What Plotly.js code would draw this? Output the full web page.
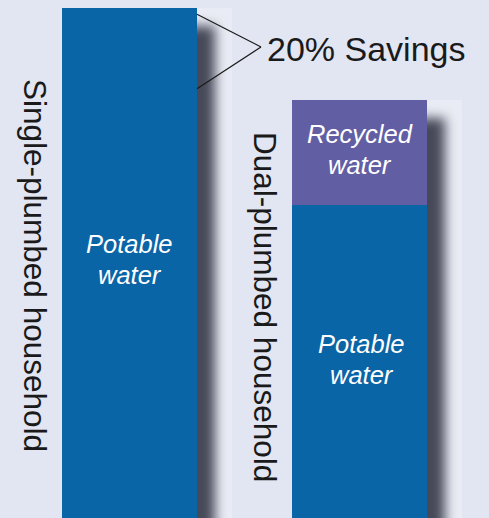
<!DOCTYPE html>
<html><head><meta charset="utf-8">
<script src="https://cdn.plot.ly/plotly-3.0.1.min.js"></script>
<style>
html,body{margin:0;padding:0;background:#e2e5f2;overflow:hidden;}
#chart{width:489px;height:518px;}
.barlayer{filter: drop-shadow(18px 18px 6px rgba(70,73,88,1));}
</style></head><body><div id="chart"></div>
<script>
// ---- data ----
const households = ["Single-plumbed household", "Dual-plumbed household"];
const potableUse = [100, 61.4];
const recycledUse = [0, 20.6];
const potableLabel = ["Potable", "water"];
const recycledLabel = ["Recycled", "water"];
const savingsLabel = "20% Savings";

// ---- styling / layout ----
const W = 489, H = 518;
const BG = "#e2e5f2";
const BLUE = "#0a65a6";
const PURPLE = "#625ea3";
const barWidth = 0.587;
const xr = [-0.563, 1.563];
const yr = [0, 101.6];
const xd = p => xr[0] + p / W * (xr[1] - xr[0]);       // pixel -> data x
const yd = p => yr[0] + (H - p) / H * (yr[1] - yr[0]); // pixel -> data y

const idx = households.map((_, i) => i);
const totals = idx.map(i => potableUse[i] + recycledUse[i]);

const traces = [
  {type: "bar", x: idx, y: potableUse, width: barWidth, marker: {color: BLUE, line: {width: 0}}, hoverinfo: "skip", name: "Potable water"},
  {type: "bar", x: idx, y: recycledUse, width: barWidth, marker: {color: PURPLE, line: {width: 0}}, hoverinfo: "skip", name: "Recycled water"}
];

const font = "Liberation Sans, Arial, Helvetica, sans-serif";
const ann = [];
const fsIn = 25.5;
function addLines(lines, i, centerVal, dx) {
  const gap = 31 / H * (yr[1] - yr[0]);
  lines.forEach((t, k) => {
    ann.push({x: i + dx, y: centerVal + gap / 2 - k * gap, xref: "x", yref: "y", text: "<i>" + t + "</i>",
      showarrow: false, xanchor: "center", yanchor: "middle", font: {family: font, size: fsIn, color: "#ffffff"}});
  });
}
addLines(potableLabel, 0, potableUse[0] * 0.508, 0.002);
addLines(potableLabel, 1, potableUse[1] * 0.505, 0.01);
addLines(recycledLabel, 1, potableUse[1] + recycledUse[1] * 0.53, 0.0);

// household labels (rotated)
ann.push({x: xd(35), y: yd(265), xref: "x", yref: "y", text: households[0], textangle: 90, showarrow: false,
  xanchor: "center", yanchor: "middle", font: {family: font, size: 31.5, color: "#1a1a1a"}});
ann.push({x: xd(265), y: yd(307), xref: "x", yref: "y", text: households[1], textangle: 90, showarrow: false,
  xanchor: "center", yanchor: "middle", font: {family: font, size: 31.5, color: "#1a1a1a"}});

// savings label
const apexY = (totals[0] + totals[1]) / 2 + 1.4;
const apexX = xd(261);
ann.push({x: xd(265), y: apexY - 0.4, xref: "x", yref: "y", text: savingsLabel, showarrow: false,
  xanchor: "left", yanchor: "middle", font: {family: font, size: 34, color: "#1a1a1a"}});

const right0 = 0 + barWidth / 2;
const right1 = 1 + barWidth / 2;
const boxW = 35 / W * (xr[1] - xr[0]);
const shapes = [
  {type: "rect", xref: "x", yref: "y", x0: right0, x1: right0 + boxW, y0: 0, y1: totals[0], fillcolor: "rgba(255,255,255,0.28)", line: {width: 0}, layer: "below"},
  {type: "rect", xref: "x", yref: "y", x0: right1, x1: right1 + boxW, y0: 0, y1: totals[1], fillcolor: "rgba(255,255,255,0.28)", line: {width: 0}, layer: "below"},
  {type: "line", xref: "x", yref: "y", x0: right0, y0: totals[0] - 1.2, x1: apexX, y1: apexY, line: {color: "#1a1a1a", width: 1.2}},
  {type: "line", xref: "x", yref: "y", x0: right0, y0: totals[1] + 2.2, x1: apexX, y1: apexY, line: {color: "#1a1a1a", width: 1.2}}
];

const ax = {showgrid: false, zeroline: false, showticklabels: false, ticks: "", showline: false, fixedrange: true};
const layout = {
  width: W, height: H, margin: {l: 0, r: 0, t: 0, b: 0, pad: 0},
  paper_bgcolor: BG, plot_bgcolor: BG, showlegend: false, barmode: "stack",
  xaxis: Object.assign({range: xr}, ax),
  yaxis: Object.assign({range: yr}, ax),
  annotations: ann, shapes: shapes
};
Plotly.newPlot("chart", traces, layout, {displayModeBar: false, staticPlot: true});
</script></body></html>
